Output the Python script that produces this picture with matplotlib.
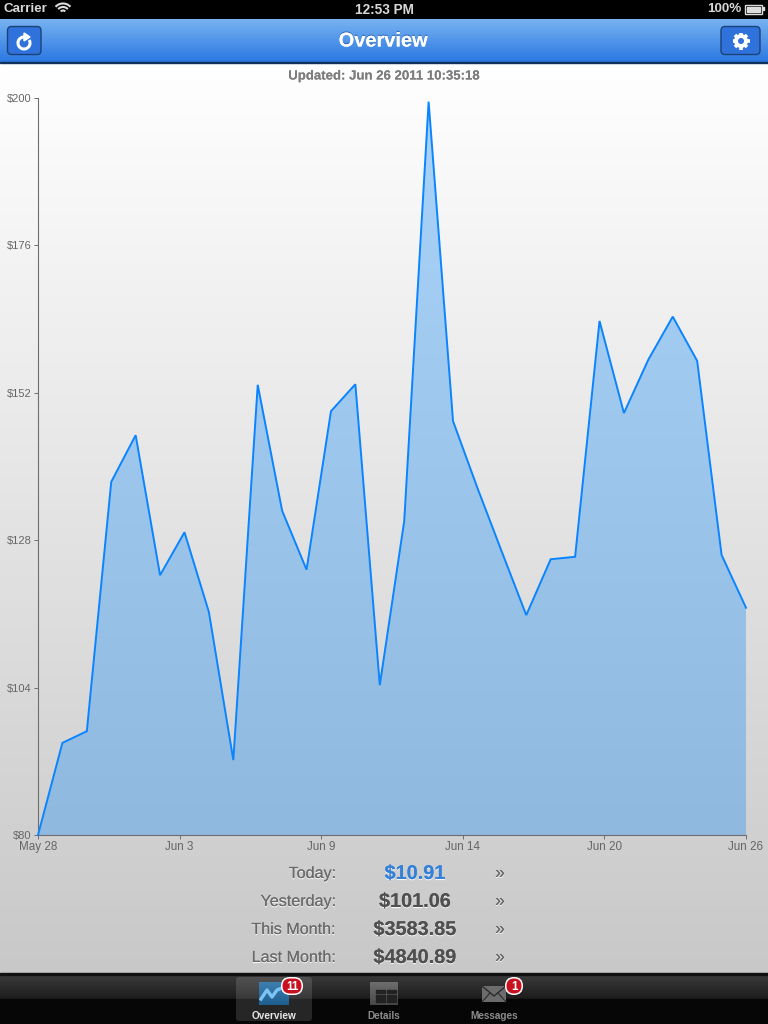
import numpy as np
import matplotlib
matplotlib.use("Agg")
import matplotlib.pyplot as plt
import matplotlib.patheffects as pe
from matplotlib.patches import FancyBboxPatch, Rectangle, Circle, Polygon, Arc

plt.rcParams["font.family"] = ["Liberation Sans", "DejaVu Sans"]

BLUE, FILL_TOP, FILL_BOT = "#0a84ff", "#a9d3f8", "#8fb9df"
GREY, DARK = "#666666", "#505050"

revenue = [80, 95, 96.9, 137.5, 145.1, 122.3, 129.3, 116.3, 92.2, 153.3,
           132.8, 123.2, 149, 153.4, 104.4, 131.1, 199.4, 147.4, 136.5, 126.1,
           115.8, 124.9, 125.3, 163.7, 148.7, 157.4, 164.4, 157.2, 125.6, 117]
y_ticks = [80, 104, 128, 152, 176, 200]
x_labels = ["May 28", "Jun 3", "Jun 9", "Jun 14", "Jun 20", "Jun 26"]
row_labels = ["Today:", "Yesterday:", "This Month:", "Last Month:"]
row_values = ["$10.91", "$101.06", "$3583.85", "$4840.89"]
updated = "Updated: Jun 26 2011 10:35:18"

W, H = 768, 1024
fig = plt.figure(figsize=(W / 100, H / 100), dpi=100)

# pixel-space layer for the app chrome
ui = fig.add_axes([0, 0, 1, 1], zorder=0)
ui.set_xlim(0, W)
ui.set_ylim(H, 0)
ui.axis("off")


def vgrad(ax, x0, x1, y0, y1, c0, c1, zorder=1):
    rgb0, rgb1 = np.array(matplotlib.colors.to_rgb(c0)), np.array(matplotlib.colors.to_rgb(c1))
    t = np.linspace(0, 1, 256)[:, None, None]
    img = rgb0 * (1 - t) + rgb1 * t
    return ax.imshow(img, extent=[x0, x1, y1, y0], aspect="auto", zorder=zorder,
                     interpolation="bilinear")


def shadow(color="white", dy=-0.8):
    return [pe.withSimplePatchShadow(offset=(0, dy), shadow_rgbFace=color, alpha=0.9), pe.Normal()]


vgrad(ui, 0, W, 63, 974, "#ffffff", "#c8c8c8")
ui.add_patch(Rectangle((0, 0), W, 19, color="black", zorder=2))
vgrad(ui, 0, W, 19, 62, "#78b3f1", "#2a78e2", zorder=2)
ui.add_patch(Rectangle((0, 62), W, 1.2, color="#12305c", zorder=3))
vgrad(ui, 0, W, 974, 999, "#3c3c3c", "#1c1c1c", zorder=2)
ui.add_patch(Rectangle((0, 999), W, 25, color="#060606", zorder=2))
ui.add_patch(Rectangle((0, 973), W, 1.5, color="#111111", zorder=3))
ui.set_xlim(0, W)
ui.set_ylim(H, 0)

# status bar
ui.text(4, 9.5, "Carrier", color="#d8d8d8", fontsize=9.6, fontweight="bold", va="center", zorder=5)
for r in (3, 6.5, 10):
    ui.add_patch(Arc((63, 13.5), r * 2, r * 2, theta1=222, theta2=318, color="#dddddd", lw=1.5, zorder=5))
ui.text(384, 9.5, "12:53 PM", color="#d8d8d8", fontsize=9.8, fontweight="bold", ha="center", va="center", zorder=5)
ui.text(741, 9.5, "100%", color="#d8d8d8", fontsize=9.6, fontweight="bold", ha="right", va="center", zorder=5)
ui.add_patch(Rectangle((745, 4.5), 17, 9, fc="black", ec="#dddddd", lw=1, zorder=5))
ui.add_patch(Rectangle((747, 6.5), 13, 5, color="#dddddd", zorder=5))
ui.add_patch(Rectangle((762.5, 7), 1.5, 3, color="#dddddd", zorder=5))

# nav bar
ui.text(383, 41, "Overview", color="white", fontsize=14.4, fontweight="bold", ha="center", va="center",
        zorder=5, path_effects=shadow("#2a5fa8", 0.8))
for x0, x1 in ((7.5, 41), (721, 760)):
    ui.add_patch(FancyBboxPatch((x0, 26.5), x1 - x0, 28, boxstyle="round,pad=0,rounding_size=4",
                                fc="#2f72dc", ec="#1c4278", lw=1, zorder=4))
# refresh icon
ui.add_patch(Arc((24, 43), 12, 12, theta1=-30, theta2=270, color="white", lw=2.2, zorder=6))
ui.add_patch(Polygon([[24, 33], [24, 41], [30, 37]], color="white", zorder=6))
# gear icon
ui.add_patch(Circle((741, 41), 5, fc="none", ec="white", lw=2.8, zorder=6))
for a in np.deg2rad(np.arange(0, 360, 45)):
    ui.plot([741 + 6 * np.cos(a), 741 + 8.5 * np.cos(a)], [41 + 6 * np.sin(a), 41 + 8.5 * np.sin(a)],
            color="white", lw=2.6, solid_capstyle="butt", zorder=6)

ui.text(384, 76.5, updated, color="#7d7d7d", fontsize=9.5, fontweight="bold", ha="center", va="center", zorder=5,
        path_effects=shadow())

# chart
ax = fig.add_axes([38 / W, 1 - 835 / H, (746 - 38) / W, (835 - 98) / H], zorder=2)
ax.patch.set_alpha(0)
x = np.arange(len(revenue))
grad = vgrad(ax, 0, len(revenue) - 1, y_ticks[-1], y_ticks[0], FILL_TOP, FILL_BOT, zorder=1)
ax.set_xlim(0, len(revenue) - 1)
ax.set_ylim(y_ticks[0], y_ticks[-1])
poly = Polygon(np.column_stack([np.r_[x, x[-1], 0], np.r_[revenue, y_ticks[0], y_ticks[0]]]),
               transform=ax.transData, fc="none", ec="none")
ax.add_patch(poly)
grad.set_clip_path(poly)
ax.plot(x, revenue, color=BLUE, lw=1.4, zorder=3, clip_on=False, solid_joinstyle="miter")

for s in ("top", "right"):
    ax.spines[s].set_visible(False)
for s in ("left", "bottom"):
    ax.spines[s].set_color("#6e6e6e")
    ax.spines[s].set_linewidth(0.8)
ax.set_yticks(y_ticks)
ax.set_yticklabels([f"${v}" for v in y_ticks])
ax.set_xticks(np.linspace(0, len(revenue) - 1, len(x_labels)))
ax.set_xticklabels(x_labels)
ax.tick_params(axis="y", length=3, width=0.7, color="#6e6e6e", labelcolor=GREY, labelsize=8, pad=1.5)
ax.tick_params(axis="x", length=3, width=0.7, color="#6e6e6e", labelcolor=GREY, labelsize=8.4, pad=1)

# summary rows
for i, (lab, val) in enumerate(zip(row_labels, row_values)):
    yy = 873.5 + i * 28
    ui.text(336, yy, lab, color="#6a6a6a", fontsize=11.6, ha="right", va="center", zorder=5,
            path_effects=shadow())
    ui.text(415, yy, val, color="#3580d8" if i == 0 else DARK, fontsize=14.3, fontweight="bold",
            ha="center", va="center", zorder=5, path_effects=shadow())
    ui.text(500, yy, "\u00bb", color="#666666", fontsize=12.5, ha="center", va="center", zorder=5,
            path_effects=shadow())

# tab bar
ui.add_patch(FancyBboxPatch((236, 977), 76, 44, boxstyle="round,pad=0,rounding_size=3",
                            fc="#ffffff", alpha=0.13, ec="none", zorder=4))
vgrad(ui, 259, 289, 982, 1005, "#3f7fb0", "#1f5f90", zorder=5)
ui.plot([261, 267, 272, 277, 287], [999, 990, 997, 990, 986], color="#7cc4f5", lw=2.4, zorder=6)
vgrad(ui, 370, 398, 982, 1005, "#6e6e6e", "#484848", zorder=5)
for col in (376, 387):
    for row in (990, 994.5, 999):
        ui.add_patch(Rectangle((col, row), 9, 3, color="#222222", zorder=6))
ui.add_patch(Polygon([[482, 986], [506, 986], [506, 1002], [482, 1002]], fc="#6c6c6c", ec="none", zorder=5))
ui.plot([482, 494, 506], [986, 996, 986], color="#2b2b2b", lw=1, zorder=6)
ui.plot([482, 490], [1002, 993], color="#2b2b2b", lw=0.8, zorder=6)
ui.plot([506, 498], [1002, 993], color="#2b2b2b", lw=0.8, zorder=6)
ui.set_xlim(0, W)
ui.set_ylim(H, 0)

for cx, lab, col in ((274, "Overview", "#e8e8e8"), (384, "Details", "#8c8c8c"), (494, "Messages", "#8c8c8c")):
    ui.text(cx, 1016, lab, color=col, fontsize=7.2, fontweight="bold", ha="center", va="center", zorder=7)

# badges
for x0, x1, txt in ((281, 303, "11"), (505, 523, "1")):
    ui.add_patch(FancyBboxPatch((x0, 977), x1 - x0, 18, boxstyle="round,pad=0,rounding_size=9",
                                fc="white", ec="none", zorder=7))
    ui.add_patch(FancyBboxPatch((x0 + 1.5, 978.5), x1 - x0 - 3, 15, boxstyle="round,pad=0,rounding_size=7.5",
                                fc="#c8101e", ec="none", zorder=8))
    ui.text((x0 + x1) / 2, 986.5, txt, color="white", fontsize=8.4, fontweight="bold",
            ha="center", va="center", zorder=9)

fig.savefig("out.png", dpi=100)
